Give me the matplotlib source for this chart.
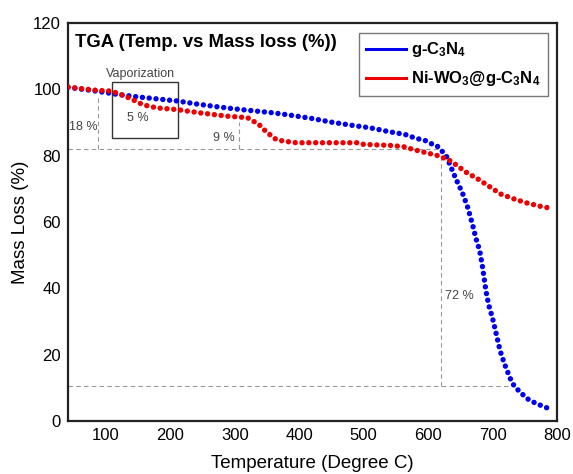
import matplotlib.pyplot as plt
from matplotlib.lines import Line2D
from matplotlib.patches import Rectangle

plt.rcParams['font.family'] = ['Liberation Sans', 'DejaVu Sans']
plt.rcParams['mathtext.fontset'] = 'custom'
plt.rcParams['mathtext.rm'] = 'Liberation Sans'
plt.rcParams['mathtext.bf'] = 'Liberation Sans:bold'
plt.rcParams['mathtext.default'] = 'bf'

# g-C3N4 (temperature, mass %)
g_temp = [41, 60, 80, 100, 120, 150, 180, 210, 240, 270, 300, 330, 360, 390,
          420, 450, 480, 510, 540, 564, 574, 584, 595, 605, 613, 620, 628, 636,
          644, 653, 661, 669, 674, 680, 684, 687, 690, 694, 700, 706, 712, 719,
          727, 734, 742, 750, 757, 770, 789]
g_mass = [100.6, 100.1, 99.6, 99.0, 98.4, 97.7, 97.1, 96.5, 95.6, 94.8, 94.1,
          93.5, 92.9, 92.1, 91.2, 90.1, 89.2, 88.4, 87.2, 86.4, 85.7, 85.1,
          84.6, 83.6, 83.1, 81.7, 80.0, 76.3, 72.6, 68.9, 64.7, 59.2, 55.2,
          51.4, 47.0, 43.0, 39.0, 35.0, 31.0, 26.0, 21.0, 17.0, 13.0, 10.4,
          8.9, 7.4, 6.3, 5.1, 3.6]

# Ni-WO3@g-C3N4
n_temp = [41, 62, 85, 106, 119, 137, 158, 179, 210, 246, 288, 310, 320, 328,
          339, 346, 354, 364, 375, 395, 440, 490, 500, 541, 562, 580, 601, 617,
          633, 643, 659, 677, 695, 713, 734, 754, 775, 794]
n_mass = [100.7, 100.2, 99.7, 99.5, 98.8, 97.3, 95.3, 94.4, 93.9, 92.9, 91.9,
          91.6, 91.4, 90.5, 89.1, 87.7, 86.4, 84.9, 84.4, 83.9, 83.9, 83.9,
          83.4, 83.1, 82.7, 81.7, 80.7, 79.9, 78.6, 77.3, 75.0, 73.0, 70.7,
          68.4, 66.9, 65.7, 64.7, 64.0]

fig = plt.figure(figsize=(5.73, 4.74), dpi=100)
ax = fig.add_axes([0.1187, 0.1118, 0.8533, 0.8397])

dots = (0, (0.01, 1.25))
ax.plot(g_temp, g_mass, color="#0000ee", lw=3.9, linestyle=dots,
        dash_capstyle="round", zorder=3)
ax.plot(n_temp, n_mass, color="#ee0000", lw=3.9, linestyle=dots,
        dash_capstyle="round", zorder=3)

# guide lines
guide = dict(color="#999999", lw=0.8, linestyle=(0, (4, 3)), zorder=1)
ax.plot([41, 620], [82, 82], **guide)
ax.plot([41, 725], [10.7, 10.7], **guide)
ax.plot([87, 87], [82, 97.5], **guide)
ax.plot([306, 306], [82, 90], **guide)
ax.plot([620, 620], [10.7, 80], **guide)

ax.add_patch(Rectangle((110, 85.4), 101, 16.9, fill=False, ec="#333333", lw=1))

note = dict(fontsize=9, color="#444444", ha="center", va="center")
ax.text(153, 104.5, "Vaporization", **note)
ax.text(150, 91.5, "5 %", **note)
ax.text(64, 88.7, "18 %", **note)
ax.text(283, 85.4, "9 %", **note)
ax.text(648, 37.6, "72 %", **note)

ax.text(0.015, 0.972, "TGA (Temp. vs Mass loss (%))", transform=ax.transAxes,
        fontsize=13.3, fontweight="bold", va="top", ha="left")

handles = [Line2D([], [], color="#0000ee", lw=2.2),
           Line2D([], [], color="#ee0000", lw=2.2)]
ax.legend(handles, [r"g-C$_3$N$_4$", r"Ni-WO$_3$@g-C$_3$N$_4$"],
          loc="upper right", bbox_to_anchor=(0.982, 0.975), borderaxespad=0,
          prop=dict(size=12, weight="bold"),
          frameon=True, fancybox=False, edgecolor="#555555",
          handlelength=2.4, handletextpad=0.3, borderpad=0.45,
          labelspacing=0.6)
leg = ax.get_legend()
leg.get_frame().set_linewidth(1.0)

ax.set_xlim(41, 800)
ax.set_ylim(0, 120)
ax.set_xticks([100, 200, 300, 400, 500, 600, 700, 800])
ax.set_yticks([0, 20, 40, 60, 80, 100, 120])
ax.tick_params(length=0, labelsize=12, pad=5)
for s in ax.spines.values():
    s.set_linewidth(1.6)
    s.set_color("#222222")

ax.set_xlabel("Temperature (Degree C)", fontsize=13.5, labelpad=9)
ax.set_ylabel("Mass Loss (%)", fontsize=13.5, labelpad=3)

fig.savefig("out.png", dpi=100)
